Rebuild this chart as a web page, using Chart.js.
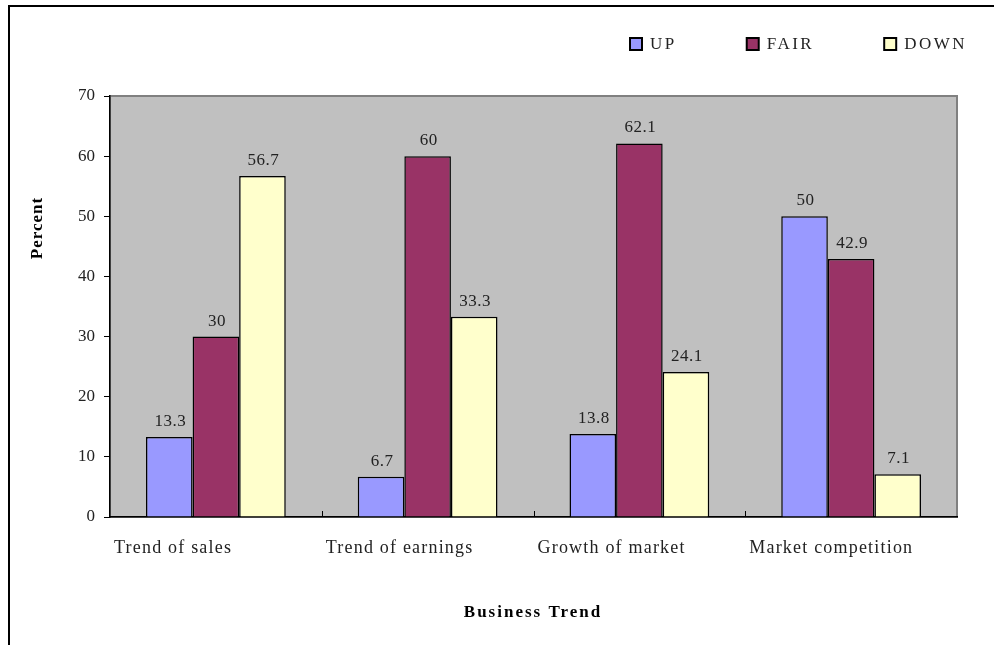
<!DOCTYPE html>
<html>
<head>
<meta charset="utf-8">
<script src="https://cdn.jsdelivr.net/npm/chart.js@4"></script>
<style>
  html, body { margin: 0; padding: 0; background: #fff; }
  #wrap { width: 994px; height: 645px; }
</style>
</head>
<body>
<div id="wrap"><canvas id="myChart" width="994" height="645"></canvas></div>
<script>
const categories = ['Trend of sales', 'Trend of earnings', 'Growth of market', 'Market competition'];
const upValues = [13.3, 6.7, 13.8, 50];
const fairValues = [30, 60, 62.1, 42.9];
const downValues = [56.7, 33.3, 24.1, 7.1];
const seriesNames = ['UP', 'FAIR', 'DOWN'];
const seriesColors = ['#9999ff', '#993366', '#ffffcc'];
const yTicks = [0, 10, 20, 30, 40, 50, 60, 70];

const serif = '"Liberation Serif", "Times New Roman", serif';

// gray plot area + outer frame
const backdrop = {
    id: 'backdrop',
    beforeDraw(chart) {
        const c = chart.ctx, a = chart.chartArea;
        c.save();
        c.fillStyle = '#c0c0c0';
        c.fillRect(a.left, a.top, a.right - a.left, a.bottom - a.top);
        c.strokeStyle = '#808080';
        c.lineWidth = 2;
        c.strokeRect(a.left, a.top, a.right - a.left, a.bottom - a.top);
        c.strokeStyle = '#000';
        c.lineWidth = 2;
        c.beginPath();
        c.moveTo(9, chart.height + 5);
        c.lineTo(9, 6);
        c.lineTo(chart.width, 6);
        c.stroke();
        c.restore();
    }
};

// value labels, category labels, titles, legend
const decorations = {
    id: 'decorations',
    afterDraw(chart) {
        const c = chart.ctx, a = chart.chartArea, x = chart.scales.x;
        c.save();
        c.fillStyle = '#222';

        // values above bars
        c.font = '17px ' + serif;
        c.letterSpacing = '0.5px';
        c.textAlign = 'center';
        c.textBaseline = 'bottom';
        chart.data.datasets.forEach((ds, i) => {
            chart.getDatasetMeta(i).data.forEach((bar, j) => {
                c.fillText(String(ds.data[j]), bar.x + 1, bar.y - 7);
            });
        });

        // small inside ticks between categories
        const step = x.getPixelForValue(1) - x.getPixelForValue(0);
        c.strokeStyle = '#000';
        c.lineWidth = 1;
        for (let i = 1; i < categories.length; i++) {
            const px = Math.round(x.getPixelForValue(i) - step / 2) + 0.5;
            c.beginPath();
            c.moveTo(px, a.bottom);
            c.lineTo(px, a.bottom - 6);
            c.stroke();
        }

        // category labels
        c.font = '18px ' + serif;
        c.letterSpacing = '1.2px';
        c.textAlign = 'left';
        c.textBaseline = 'middle';
        categories.forEach((label, i) => {
            c.fillText(label, x.getPixelForValue(i) - step / 2 + 4, a.bottom + 31);
        });

        // axis titles
        c.fillStyle = '#000';
        c.font = 'bold 17px ' + serif;
        c.letterSpacing = '2px';
        c.textAlign = 'center';
        c.fillText('Business Trend', 533, 613);
        c.save();
        c.translate(38, 228);
        c.rotate(-Math.PI / 2);
        c.letterSpacing = '1px';
        c.fillText('Percent', 0, 0);
        c.restore();

        // legend
        c.font = '17px ' + serif;
        c.letterSpacing = '2.5px';
        c.textAlign = 'left';
        let lx = 630;
        seriesNames.forEach((name, i) => {
            c.fillStyle = seriesColors[i];
            c.fillRect(lx, 38, 12, 12);
            c.strokeStyle = '#000';
            c.lineWidth = 2;
            c.strokeRect(lx, 38, 12, 12);
            c.fillStyle = '#222';
            c.fillText(name, lx + 20, 45);
            lx += 12 + 8 + c.measureText(name).width + 70;
        });
        c.restore();
    }
};

const ctx = document.getElementById('myChart').getContext('2d');

const myChart = new Chart(ctx, {
    type: 'bar',
    data: {
        labels: categories,
        datasets: [upValues, fairValues, downValues].map((vals, i) => ({
            label: seriesNames[i],
            data: vals,
            backgroundColor: seriesColors[i],
            borderColor: '#000',
            borderWidth: 1.5,
            categoryPercentage: 0.66,
            barPercentage: 1.0
        }))
    },
    options: {
        responsive: false,
        animation: false,
        layout: { padding: { left: 20, top: 96, right: 37, bottom: 0 } },
        plugins: {
            legend: { display: false },
            tooltip: { enabled: false }
        },
        scales: {
            x: {
                offset: true,
                grid: { display: false },
                border: { display: true, color: '#000', width: 1.5 },
                ticks: { display: false },
                afterFit(scale) { scale.height = 128; }
            },
            y: {
                min: 0,
                max: 70,
                afterBuildTicks(scale) { scale.ticks = yTicks.map(v => ({ value: v })); },
                grid: { drawOnChartArea: false, tickLength: 6, color: '#000', lineWidth: 1 },
                border: { display: true, color: '#000', width: 1.5 },
                ticks: { color: '#222', padding: 9, font: { family: serif, size: 17 } },
                afterFit(scale) { scale.width = 90; }
            }
        }
    },
    plugins: [backdrop, decorations]
});
</script>
</body>
</html>
